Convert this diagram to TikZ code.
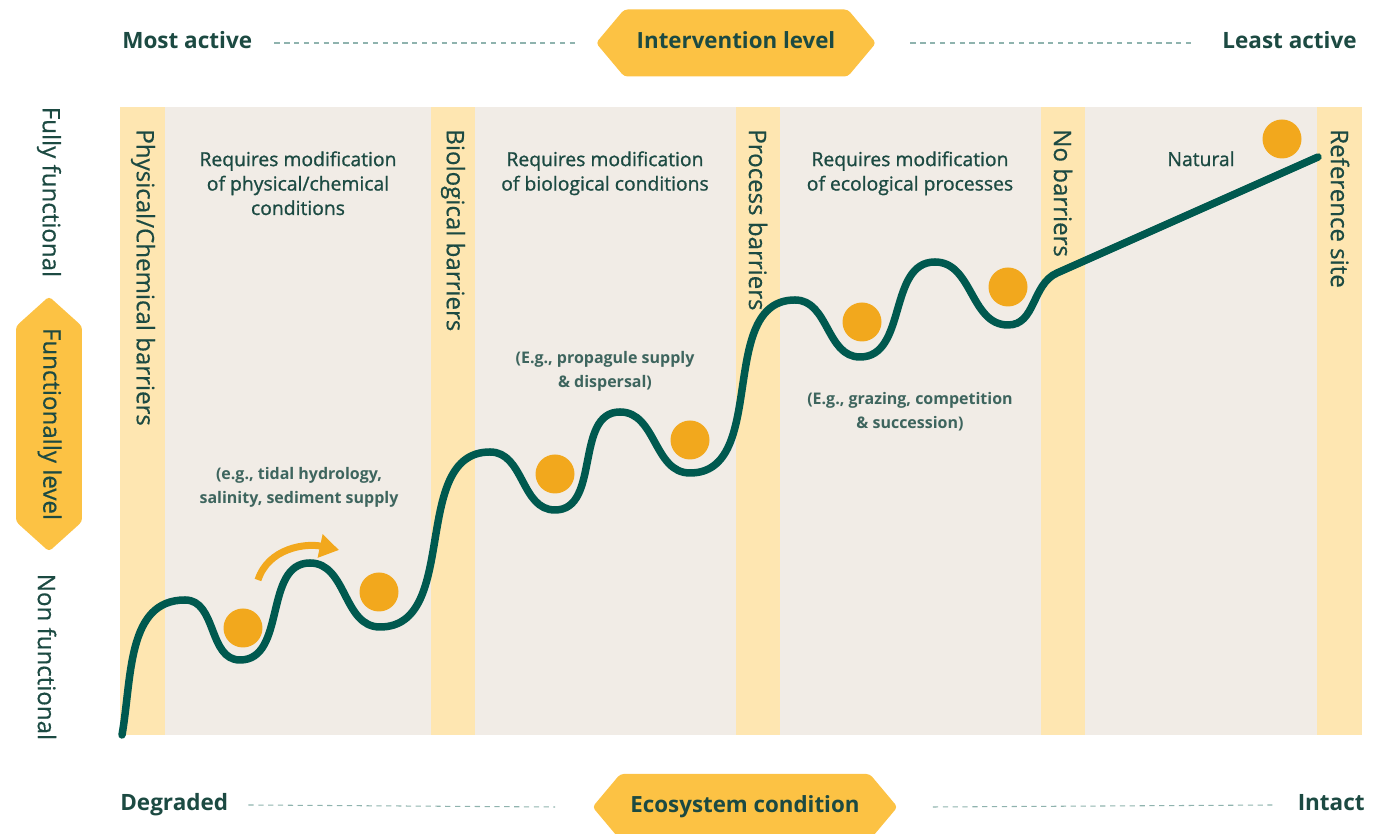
\documentclass[tikz,border=0pt]{standalone}
\usepackage{fontspec}
\setmainfont{Open Sans}
\newfontfamily\medfont[FakeBold=1.0]{Open Sans}
\newfontfamily\lightmedfont[FakeBold=0.5]{Open Sans}
\usetikzlibrary{arrows.meta,shapes.symbols}

\definecolor{inkgreen}{HTML}{1C4A42}
\definecolor{curvegreen}{HTML}{00594F}
\definecolor{dotorange}{HTML}{F2A81D}
\definecolor{hexyellow}{HTML}{FCC244}
\definecolor{bandyellow}{HTML}{FEE6B1}
\definecolor{panelbeige}{HTML}{F1ECE6}
\definecolor{dashteal}{HTML}{8FB3AE}

\tikzset{
	axislabel/.style={font=\fontsize{12.8}{14}\selectfont\bfseries, text=inkgreen, inner sep=0pt, text height=1.5ex, text depth=0.3ex},
	sidelabel/.style={font=\fontsize{13.7}{16}\selectfont\lightmedfont, text=inkgreen, inner sep=0pt, rotate=-90},
	hexbox/.style={signal, signal to=east and west, signal pointer angle=100, fill=hexyellow, rounded corners=2pt, font=\fontsize{12.7}{14}\selectfont\bfseries, text=inkgreen, inner sep=0pt, text height=1.5ex, text depth=0.3ex},
	dashline/.style={dashteal, line width=0.6pt, dash pattern=on 3pt off 2.6pt},
	zonetext/.style={font=\fontsize{11}{13.9}\selectfont\medfont, text=inkgreen, align=center, anchor=north, inner sep=0pt},
	eglabel/.style={font=\fontsize{9.1}{13.7}\selectfont\bfseries, text=inkgreen!85, align=center, anchor=north, inner sep=0pt},
	band/.style={fill=bandyellow},
	trail/.style={curvegreen, line width=0.15cm, line cap=round},
	ball/.style={fill=dotorange},
}

\begin{document}
\begin{tikzpicture}[x=0.02cm, y=0.02cm]
	\useasboundingbox (0,0) rectangle (1373,834);
	
	% Chart Panel
	\fill[panelbeige] (120,99) rectangle (1362,727);
	
	% Barrier Bands
	\fill[band] (120,99) rectangle (165,727);
	\fill[band] (431,99) rectangle (475,727);
	\fill[band] (736,99) rectangle (780,727);
	\fill[band] (1041,99) rectangle (1085,727);
	\fill[band] (1317,99) rectangle (1362,727);
	
	% Band Labels
	\node[sidelabel, anchor=west] (physbar) at (143,705) {Physical/Chemical barriers};
	\node[sidelabel, anchor=west] (biobar) at (453,705) {Biological barriers};
	\node[sidelabel, anchor=west] (procbar) at (758,705) {Process barriers};
	\node[sidelabel, anchor=west] (nobar) at (1063,705) {No barriers};
	\node[sidelabel, anchor=west] (refsite) at (1340,705) {Reference site};
	
	% Zone Texts
	\node[zonetext] (physreq) at (298,683) {Requires modification\\of physical/chemical\\conditions};
	\node[zonetext] (bioreq) at (605,683) {Requires modification\\of biological conditions};
	\node[zonetext] (ecoreq) at (910,683) {Requires modification\\of ecological processes};
	\node[zonetext] (natural) at (1201,683) {Natural};
	
	% Examples
	\node[eglabel] (physeg) at (299,367) {(e.g., tidal hydrology,\\salinity, sediment supply};
	\node[eglabel] (bioeg) at (605,483) {(E.g., propagule supply\\\& dispersal)};
	\node[eglabel] (ecoeg) at (910,442) {(E.g., grazing, competition\\\& succession)};
	
	% Recovery Curve
	\draw[trail] (122,99) to[out=80,in=180] (185,234)
		to[out=0,in=180] (240,174) to[out=0,in=180] (310,271)
		to[out=0,in=180] (380,207) to[out=0,in=180] (490,382)
		to[out=0,in=180] (555,324) to[out=0,in=180] (620,422)
		to[out=0,in=180] (690,361) to[out=0,in=180] (795,534)
		to[out=0,in=180] (860,477) to[out=0,in=180] (935,572)
		to[out=0,in=180] (1008,509) to[out=0,in=204] (1057,561)
		-- (1318,677);
	
	% Balls
	\fill[ball] (243,206) circle (0.39cm);
	\fill[ball] (379,242) circle (0.39cm);
	\fill[ball] (555,360) circle (0.39cm);
	\fill[ball] (690,394) circle (0.39cm);
	\fill[ball] (862,512) circle (0.39cm);
	\fill[ball] (1008,547) circle (0.39cm);
	\fill[ball] (1282,695) circle (0.39cm);
	
	% Push Arrow
	\draw[dotorange, line width=0.14cm, -{Triangle[length=11pt,width=13pt]}] (258,254) to[out=72,in=168] (339,284);
	
	% Top Axis
	\node[axislabel, anchor=west] (mostact) at (122,791) {Most active};
	\node[axislabel, anchor=east] (leastact) at (1357,791) {Least active};
	\node[hexbox, minimum width=5.6cm, minimum height=1.34cm] (interv) at (736,791) {Intervention level};
	\draw[dashline] ([xshift=0.44cm]mostact.east) -- ([xshift=-0.42cm]interv.west);
	\draw[dashline] ([xshift=0.68cm]interv.east) -- ([xshift=-0.54cm]leastact.west);
	
	% Bottom Axis
	\node[axislabel, anchor=west] (degraded) at (120,29) {Degraded};
	\node[axislabel, anchor=east] (intact) at (1365,29) {Intact};
	\node[hexbox, minimum width=6.1cm, minimum height=1.32cm] (ecocond) at (745,27) {Ecosystem condition};
	\draw[dashline] ([xshift=0.4cm]degraded.east) -- ([xshift=-0.74cm]ecocond.west);
	\draw[dashline] ([xshift=0.7cm]ecocond.east) -- ([xshift=-0.5cm]intact.west);
	
	% Side Axis
	\node[sidelabel] (fullyfn) at (49,642) {Fully functional};
	\node[hexbox, rotate=-90, signal pointer angle=96, font=\fontsize{13.7}{16}\selectfont\lightmedfont, minimum width=5.1cm, minimum height=1.32cm] (funclevel) at (49,410) {Functionally level};
	\node[sidelabel] (nonfn) at (47,177) {Non functional};
\end{tikzpicture}
\end{document}
